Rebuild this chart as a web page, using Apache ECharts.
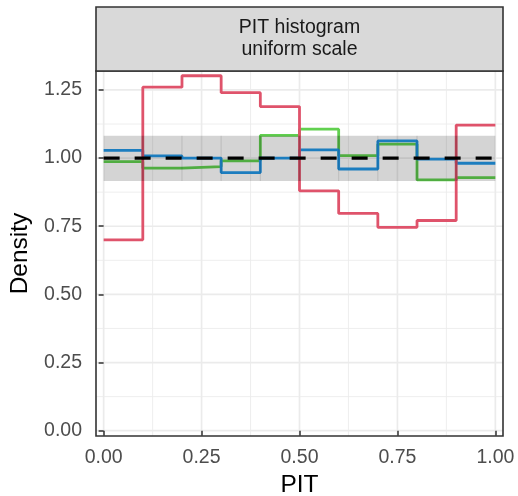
<!DOCTYPE html>
<html>
<head>
<meta charset="utf-8">
<script src="https://cdn.jsdelivr.net/npm/echarts@6/dist/echarts.min.js"></script>
<style>
  html, body { margin: 0; padding: 0; background: #ffffff; }
  #chart { width: 518px; height: 496px; }
</style>
</head>
<body>
<div id="chart"></div>
<script>
// PIT histogram bins (edges on [0, 1])
const binEdges = [0.0, 0.1, 0.2, 0.3, 0.4, 0.5, 0.6, 0.7, 0.8, 0.9, 1.0];

// Density per bin for each of the three forecasts
const redDensity   = [0.700, 1.260, 1.302, 1.240, 1.189, 0.880, 0.797, 0.746, 0.771, 1.121];
const greenDensity = [0.987, 0.963, 0.969, 0.990, 1.083, 1.106, 1.009, 1.051, 0.920, 0.928];
const blueDensity  = [1.028, 1.008, 1.000, 0.947, 1.000, 1.030, 0.960, 1.063, 0.996, 0.981];

// Consistency band around the uniform density
const bandLower = 0.916;
const bandUpper = 1.082;
const uniformDensity = 1.0;

// Axis ticks
const xTicks = [0, 0.25, 0.5, 0.75, 1.0];
const yTicks = [0, 0.25, 0.5, 0.75, 1.0, 1.25];
const xMinorGrid = [0.125, 0.375, 0.625, 0.875];
const yMinorGrid = [0.125, 0.375, 0.625, 0.875, 1.125];

const FONT = 'Liberation Sans, Arial, Helvetica, sans-serif';

// Build step data: each bin's value holds until the next edge
function stepData(vals) {
  const pts = vals.map((v, i) => [binEdges[i], v]);
  pts.push([binEdges[binEdges.length - 1], vals[vals.length - 1]]);
  return pts;
}

// Grid line records: [orientation (0 = vertical, 1 = horizontal), value, major flag]
const gridRecords = []
  .concat(xTicks.map(v => [0, v, 1]))
  .concat(xMinorGrid.map(v => [0, v, 0]))
  .concat(yTicks.map(v => [1, v, 1]))
  .concat(yMinorGrid.map(v => [1, v, 0]));

// Band pieces, one per bin: [x0, x1, lower, upper]
const bandPieces = binEdges.slice(0, -1).map((e, i) => [e, binEdges[i + 1], bandLower, bandUpper]);

const chart = echarts.init(document.getElementById('chart'), null, { renderer: 'canvas' });

const tickLabelStyle = { color: '#4D4D4D', fontSize: 19.5, fontFamily: FONT };

const option = {
  animation: false,
  backgroundColor: '#ffffff',
  grid: { left: 96, right: 15, top: 71, bottom: 60, containLabel: false },
  xAxis: {
    type: 'value',
    min: -0.0195,
    max: 1.0195,
    axisLine: { show: false },
    splitLine: { show: false },
    axisTick: { show: true, customValues: xTicks, length: 5, lineStyle: { color: '#333333', width: 1.5 } },
    axisLabel: { show: true, customValues: xTicks, margin: 12, formatter: v => v.toFixed(2), ...tickLabelStyle }
  },
  yAxis: {
    type: 'value',
    min: -0.0195,
    max: 1.3195,
    axisLine: { show: false },
    splitLine: { show: false },
    axisTick: { show: true, customValues: yTicks, length: 5, lineStyle: { color: '#333333', width: 1.5 } },
    axisLabel: { show: true, customValues: yTicks, margin: 14, formatter: v => v.toFixed(2), ...tickLabelStyle }
  },
  series: [
    {
      name: 'grid',
      type: 'custom',
      z: 0,
      silent: true,
      data: gridRecords,
      encode: { x: -1, y: -1 },
      renderItem: function (params, api) {
        const cs = params.coordSys;
        const orient = api.value(0);
        const v = api.value(1);
        const major = api.value(2) === 1;
        const style = { stroke: '#EBEBEB', lineWidth: major ? 1.7 : 0.85 };
        if (orient === 0) {
          const p = api.coord([v, 0]);
          return { type: 'line', shape: { x1: p[0], y1: cs.y, x2: p[0], y2: cs.y + cs.height }, style };
        }
        const p = api.coord([0, v]);
        return { type: 'line', shape: { x1: cs.x, y1: p[1], x2: cs.x + cs.width, y2: p[1] }, style };
      }
    },
    {
      name: 'green',
      type: 'line',
      z: 2,
      step: 'end',
      showSymbol: false,
      data: stepData(greenDensity),
      lineStyle: { color: '#61D04F', width: 2.8 }
    },
    {
      name: 'blue',
      type: 'line',
      z: 2,
      step: 'end',
      showSymbol: false,
      data: stepData(blueDensity),
      lineStyle: { color: '#2297E6', width: 2.8 }
    },
    {
      name: 'red',
      type: 'line',
      z: 2,
      step: 'end',
      showSymbol: false,
      data: stepData(redDensity),
      lineStyle: { color: '#DF536B', width: 2.8 }
    },
    {
      name: 'band',
      type: 'custom',
      z: 3,
      silent: true,
      data: bandPieces,
      encode: { x: [0, 1], y: [2, 3] },
      renderItem: function (params, api) {
        const x0 = api.value(0), x1 = api.value(1);
        const lo = api.value(2), hi = api.value(3);
        const pTop = api.coord([x0, hi]);
        const pBot = api.coord([x1, lo]);
        const children = [{
          type: 'rect',
          shape: { x: pTop[0], y: pTop[1], width: pBot[0] - pTop[0], height: pBot[1] - pTop[1] },
          style: { fill: 'rgba(0,0,0,0.17)' }
        }];
        if (params.dataIndex > 0) {
          children.push({
            type: 'line',
            shape: { x1: pTop[0], y1: pTop[1], x2: pTop[0], y2: pBot[1] },
            style: { stroke: 'rgba(0,0,0,0.12)', lineWidth: 1 }
          });
        }
        return { type: 'group', children };
      }
    },
    {
      name: 'uniform',
      type: 'line',
      z: 4,
      showSymbol: false,
      data: [[binEdges[0], uniformDensity], [binEdges[binEdges.length - 1], uniformDensity]],
      lineStyle: { color: '#000000', width: 3.2, type: [16, 15] }
    }
  ],
  graphic: [
    // panel border
    {
      type: 'rect', z: 100, silent: true,
      shape: { x: 96, y: 71, width: 407, height: 365 },
      style: { fill: 'none', stroke: '#333333', lineWidth: 1.6 }
    },
    // facet strip
    {
      type: 'rect', z: 100, silent: true,
      shape: { x: 96, y: 7, width: 407, height: 64 },
      style: { fill: '#D9D9D9', stroke: '#333333', lineWidth: 1.6 }
    },
    {
      type: 'text', z: 101, silent: true,
      x: 299.5, y: 39,
      style: {
        text: 'PIT histogram\nuniform scale',
        fill: '#1A1A1A', fontSize: 19.5, fontFamily: FONT,
        lineHeight: 22, align: 'center', verticalAlign: 'middle'
      }
    },
    // axis titles
    {
      type: 'text', z: 101, silent: true,
      x: 299.5, y: 485,
      style: { text: 'PIT', fill: '#000000', fontSize: 24.5, fontFamily: FONT, align: 'center', verticalAlign: 'middle' }
    },
    {
      type: 'text', z: 101, silent: true,
      x: 20, y: 253.5, rotation: Math.PI / 2,
      style: { text: 'Density', fill: '#000000', fontSize: 24.5, fontFamily: FONT, align: 'center', verticalAlign: 'middle' }
    }
  ]
};

chart.setOption(option);
</script>
</body>
</html>
